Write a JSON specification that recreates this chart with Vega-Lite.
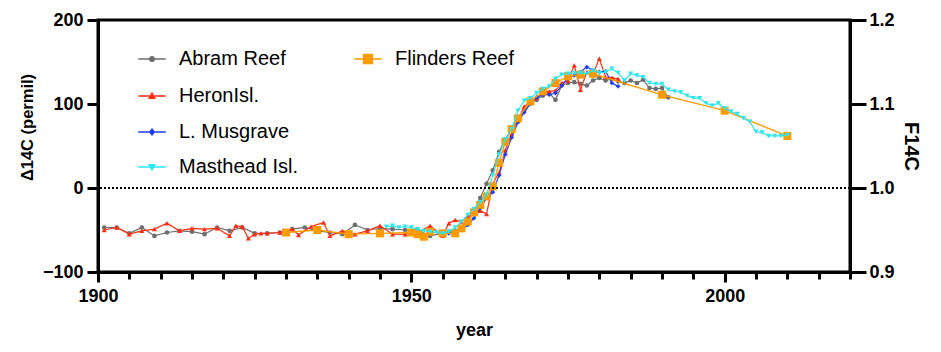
{
  "$schema": "https://vega.github.io/schema/vega-lite/v6.json",
  "autosize": {"type": "none"},
  "width": 752,
  "height": 252,
  "padding": {"left": 98, "top": 20, "right": 91, "bottom": 80},
  "background": "white",
  "config": {
    "view": {"stroke": "black", "strokeWidth": 3},
    "axis": {
      "grid": false,
      "domainColor": "black",
      "domainWidth": 3,
      "tickColor": "black",
      "tickWidth": 3,
      "labelFont": "Liberation Sans",
      "labelFontWeight": "bold",
      "labelFontSize": 18,
      "labelColor": "black",
      "titleFont": "Liberation Sans",
      "titleFontWeight": "bold",
      "titleFontSize": 18,
      "titleColor": "black"
    },
    "legend": {
      "labelFont": "Liberation Sans",
      "labelFontSize": 20,
      "labelColor": "black",
      "padding": 0,
      "symbolSize": 36,
      "symbolStrokeWidth": 1.3,
      "labelOffset": 17,
      "title": null
    }
  },
  "datasets": {
    "series": [
      {"s": "Abram Reef", "year": 1901, "d": -47}, {"s": "Abram Reef", "year": 1903, "d": -47}, {"s": "Abram Reef", "year": 1905, "d": -54}, {"s": "Abram Reef", "year": 1907, "d": -47}, {"s": "Abram Reef", "year": 1909, "d": -57}, {"s": "Abram Reef", "year": 1911, "d": -53}, {"s": "Abram Reef", "year": 1913, "d": -51}, {"s": "Abram Reef", "year": 1915, "d": -52}, {"s": "Abram Reef", "year": 1917, "d": -55}, {"s": "Abram Reef", "year": 1919, "d": -47}, {"s": "Abram Reef", "year": 1921, "d": -51}, {"s": "Abram Reef", "year": 1923, "d": -47}, {"s": "Abram Reef", "year": 1925, "d": -54}, {"s": "Abram Reef", "year": 1927, "d": -54}, {"s": "Abram Reef", "year": 1929, "d": -53}, {"s": "Abram Reef", "year": 1931, "d": -49}, {"s": "Abram Reef", "year": 1933, "d": -47}, {"s": "Abram Reef", "year": 1935, "d": -51}, {"s": "Abram Reef", "year": 1937, "d": -53}, {"s": "Abram Reef", "year": 1939, "d": -55}, {"s": "Abram Reef", "year": 1941, "d": -44}, {"s": "Abram Reef", "year": 1943, "d": -50}, {"s": "Abram Reef", "year": 1945, "d": -48}, {"s": "Abram Reef", "year": 1947, "d": -49}, {"s": "Abram Reef", "year": 1949, "d": -50}, {"s": "Abram Reef", "year": 1951, "d": -50}, {"s": "Abram Reef", "year": 1953, "d": -57}, {"s": "Abram Reef", "year": 1955, "d": -54}, {"s": "Abram Reef", "year": 1956, "d": -52}, {"s": "Abram Reef", "year": 1957, "d": -51}, {"s": "Abram Reef", "year": 1958, "d": -47}, {"s": "Abram Reef", "year": 1959, "d": -38}, {"s": "Abram Reef", "year": 1960, "d": -27}, {"s": "Abram Reef", "year": 1961, "d": -12}, {"s": "Abram Reef", "year": 1962, "d": 5}, {"s": "Abram Reef", "year": 1963, "d": 21}, {"s": "Abram Reef", "year": 1964, "d": 43}, {"s": "Abram Reef", "year": 1965, "d": 58}, {"s": "Abram Reef", "year": 1966, "d": 70}, {"s": "Abram Reef", "year": 1967, "d": 81}, {"s": "Abram Reef", "year": 1968, "d": 92}, {"s": "Abram Reef", "year": 1969, "d": 101}, {"s": "Abram Reef", "year": 1970, "d": 105}, {"s": "Abram Reef", "year": 1971, "d": 110}, {"s": "Abram Reef", "year": 1972, "d": 113}, {"s": "Abram Reef", "year": 1973, "d": 105}, {"s": "Abram Reef", "year": 1974, "d": 122}, {"s": "Abram Reef", "year": 1975, "d": 125}, {"s": "Abram Reef", "year": 1976, "d": 126}, {"s": "Abram Reef", "year": 1977, "d": 124}, {"s": "Abram Reef", "year": 1978, "d": 122}, {"s": "Abram Reef", "year": 1979, "d": 128}, {"s": "Abram Reef", "year": 1980, "d": 131}, {"s": "Abram Reef", "year": 1981, "d": 128}, {"s": "Abram Reef", "year": 1982, "d": 130}, {"s": "Abram Reef", "year": 1983, "d": 127}, {"s": "Abram Reef", "year": 1984, "d": 125}, {"s": "Abram Reef", "year": 1985, "d": 128}, {"s": "Abram Reef", "year": 1986, "d": 125}, {"s": "Abram Reef", "year": 1987, "d": 129}, {"s": "Abram Reef", "year": 1988, "d": 119}, {"s": "Abram Reef", "year": 1989, "d": 118}, {"s": "Abram Reef", "year": 1990, "d": 119}, {"s": "Abram Reef", "year": 1991, "d": 108},

      {"s": "HeronIsl.", "year": 1901, "d": -50}, {"s": "HeronIsl.", "year": 1903, "d": -47}, {"s": "HeronIsl.", "year": 1905, "d": -55}, {"s": "HeronIsl.", "year": 1907, "d": -51}, {"s": "HeronIsl.", "year": 1909, "d": -49}, {"s": "HeronIsl.", "year": 1911, "d": -42}, {"s": "HeronIsl.", "year": 1913, "d": -51}, {"s": "HeronIsl.", "year": 1915, "d": -48}, {"s": "HeronIsl.", "year": 1917, "d": -49}, {"s": "HeronIsl.", "year": 1919, "d": -48}, {"s": "HeronIsl.", "year": 1921, "d": -57}, {"s": "HeronIsl.", "year": 1922, "d": -45}, {"s": "HeronIsl.", "year": 1923, "d": -46}, {"s": "HeronIsl.", "year": 1924, "d": -60}, {"s": "HeronIsl.", "year": 1925, "d": -55}, {"s": "HeronIsl.", "year": 1926, "d": -54}, {"s": "HeronIsl.", "year": 1927, "d": -54}, {"s": "HeronIsl.", "year": 1929, "d": -53}, {"s": "HeronIsl.", "year": 1931, "d": -49}, {"s": "HeronIsl.", "year": 1932, "d": -56}, {"s": "HeronIsl.", "year": 1934, "d": -46}, {"s": "HeronIsl.", "year": 1936, "d": -41}, {"s": "HeronIsl.", "year": 1937, "d": -57}, {"s": "HeronIsl.", "year": 1939, "d": -51}, {"s": "HeronIsl.", "year": 1941, "d": -55}, {"s": "HeronIsl.", "year": 1943, "d": -51}, {"s": "HeronIsl.", "year": 1945, "d": -45}, {"s": "HeronIsl.", "year": 1947, "d": -55}, {"s": "HeronIsl.", "year": 1949, "d": -55}, {"s": "HeronIsl.", "year": 1951, "d": -53}, {"s": "HeronIsl.", "year": 1953, "d": -45}, {"s": "HeronIsl.", "year": 1955, "d": -57}, {"s": "HeronIsl.", "year": 1956, "d": -42}, {"s": "HeronIsl.", "year": 1957, "d": -38}, {"s": "HeronIsl.", "year": 1958, "d": -40}, {"s": "HeronIsl.", "year": 1959, "d": -34}, {"s": "HeronIsl.", "year": 1960, "d": -30}, {"s": "HeronIsl.", "year": 1961, "d": -27}, {"s": "HeronIsl.", "year": 1962, "d": -31}, {"s": "HeronIsl.", "year": 1963, "d": 5}, {"s": "HeronIsl.", "year": 1964, "d": 18}, {"s": "HeronIsl.", "year": 1965, "d": 45}, {"s": "HeronIsl.", "year": 1966, "d": 64}, {"s": "HeronIsl.", "year": 1967, "d": 80}, {"s": "HeronIsl.", "year": 1968, "d": 97}, {"s": "HeronIsl.", "year": 1969, "d": 103}, {"s": "HeronIsl.", "year": 1970, "d": 107}, {"s": "HeronIsl.", "year": 1971, "d": 113}, {"s": "HeronIsl.", "year": 1972, "d": 115}, {"s": "HeronIsl.", "year": 1973, "d": 116}, {"s": "HeronIsl.", "year": 1974, "d": 125}, {"s": "HeronIsl.", "year": 1975, "d": 128}, {"s": "HeronIsl.", "year": 1976, "d": 146}, {"s": "HeronIsl.", "year": 1977, "d": 117}, {"s": "HeronIsl.", "year": 1978, "d": 138}, {"s": "HeronIsl.", "year": 1979, "d": 136}, {"s": "HeronIsl.", "year": 1980, "d": 154}, {"s": "HeronIsl.", "year": 1981, "d": 132}, {"s": "HeronIsl.", "year": 1982, "d": 131}, {"s": "HeronIsl.", "year": 1983, "d": 130},

      {"s": "L. Musgrave", "year": 1955, "d": -55}, {"s": "L. Musgrave", "year": 1956, "d": -54}, {"s": "L. Musgrave", "year": 1957, "d": -53}, {"s": "L. Musgrave", "year": 1958, "d": -50}, {"s": "L. Musgrave", "year": 1959, "d": -44}, {"s": "L. Musgrave", "year": 1960, "d": -36}, {"s": "L. Musgrave", "year": 1961, "d": -24}, {"s": "L. Musgrave", "year": 1962, "d": -12}, {"s": "L. Musgrave", "year": 1963, "d": -5}, {"s": "L. Musgrave", "year": 1964, "d": 15}, {"s": "L. Musgrave", "year": 1965, "d": 40}, {"s": "L. Musgrave", "year": 1966, "d": 60}, {"s": "L. Musgrave", "year": 1967, "d": 78}, {"s": "L. Musgrave", "year": 1968, "d": 90}, {"s": "L. Musgrave", "year": 1969, "d": 100}, {"s": "L. Musgrave", "year": 1970, "d": 108}, {"s": "L. Musgrave", "year": 1971, "d": 111}, {"s": "L. Musgrave", "year": 1972, "d": 111}, {"s": "L. Musgrave", "year": 1973, "d": 113}, {"s": "L. Musgrave", "year": 1974, "d": 122}, {"s": "L. Musgrave", "year": 1975, "d": 131}, {"s": "L. Musgrave", "year": 1976, "d": 134}, {"s": "L. Musgrave", "year": 1977, "d": 138}, {"s": "L. Musgrave", "year": 1978, "d": 144}, {"s": "L. Musgrave", "year": 1979, "d": 140}, {"s": "L. Musgrave", "year": 1980, "d": 138}, {"s": "L. Musgrave", "year": 1981, "d": 139}, {"s": "L. Musgrave", "year": 1982, "d": 125}, {"s": "L. Musgrave", "year": 1983, "d": 121},

      {"s": "Masthead Isl.", "year": 1946, "d": -46}, {"s": "Masthead Isl.", "year": 1947, "d": -45}, {"s": "Masthead Isl.", "year": 1948, "d": -47}, {"s": "Masthead Isl.", "year": 1949, "d": -46}, {"s": "Masthead Isl.", "year": 1950, "d": -47}, {"s": "Masthead Isl.", "year": 1951, "d": -49}, {"s": "Masthead Isl.", "year": 1952, "d": -51}, {"s": "Masthead Isl.", "year": 1953, "d": -52}, {"s": "Masthead Isl.", "year": 1954, "d": -53}, {"s": "Masthead Isl.", "year": 1955, "d": -54}, {"s": "Masthead Isl.", "year": 1956, "d": -52}, {"s": "Masthead Isl.", "year": 1957, "d": -47}, {"s": "Masthead Isl.", "year": 1958, "d": -40}, {"s": "Masthead Isl.", "year": 1959, "d": -32}, {"s": "Masthead Isl.", "year": 1960, "d": -25}, {"s": "Masthead Isl.", "year": 1961, "d": -17}, {"s": "Masthead Isl.", "year": 1962, "d": -8}, {"s": "Masthead Isl.", "year": 1963, "d": 15}, {"s": "Masthead Isl.", "year": 1964, "d": 40}, {"s": "Masthead Isl.", "year": 1965, "d": 58}, {"s": "Masthead Isl.", "year": 1966, "d": 70}, {"s": "Masthead Isl.", "year": 1967, "d": 92}, {"s": "Masthead Isl.", "year": 1968, "d": 104}, {"s": "Masthead Isl.", "year": 1969, "d": 107}, {"s": "Masthead Isl.", "year": 1970, "d": 113}, {"s": "Masthead Isl.", "year": 1971, "d": 118}, {"s": "Masthead Isl.", "year": 1972, "d": 121}, {"s": "Masthead Isl.", "year": 1973, "d": 130}, {"s": "Masthead Isl.", "year": 1974, "d": 135}, {"s": "Masthead Isl.", "year": 1975, "d": 136}, {"s": "Masthead Isl.", "year": 1976, "d": 137}, {"s": "Masthead Isl.", "year": 1977, "d": 137}, {"s": "Masthead Isl.", "year": 1978, "d": 136}, {"s": "Masthead Isl.", "year": 1979, "d": 140}, {"s": "Masthead Isl.", "year": 1980, "d": 137}, {"s": "Masthead Isl.", "year": 1981, "d": 138}, {"s": "Masthead Isl.", "year": 1982, "d": 142}, {"s": "Masthead Isl.", "year": 1983, "d": 137}, {"s": "Masthead Isl.", "year": 1984, "d": 128}, {"s": "Masthead Isl.", "year": 1985, "d": 136}, {"s": "Masthead Isl.", "year": 1986, "d": 134}, {"s": "Masthead Isl.", "year": 1987, "d": 132}, {"s": "Masthead Isl.", "year": 1988, "d": 125}, {"s": "Masthead Isl.", "year": 1989, "d": 124}, {"s": "Masthead Isl.", "year": 1990, "d": 124}, {"s": "Masthead Isl.", "year": 1991, "d": 117}, {"s": "Masthead Isl.", "year": 1992, "d": 115}, {"s": "Masthead Isl.", "year": 1993, "d": 114}, {"s": "Masthead Isl.", "year": 1994, "d": 110}, {"s": "Masthead Isl.", "year": 1995, "d": 107}, {"s": "Masthead Isl.", "year": 1996, "d": 107}, {"s": "Masthead Isl.", "year": 1997, "d": 101}, {"s": "Masthead Isl.", "year": 1998, "d": 98}, {"s": "Masthead Isl.", "year": 1999, "d": 101}, {"s": "Masthead Isl.", "year": 2000, "d": 95}, {"s": "Masthead Isl.", "year": 2001, "d": 91}, {"s": "Masthead Isl.", "year": 2002, "d": 88}, {"s": "Masthead Isl.", "year": 2003, "d": 83}, {"s": "Masthead Isl.", "year": 2004, "d": 79}, {"s": "Masthead Isl.", "year": 2005, "d": 67}, {"s": "Masthead Isl.", "year": 2006, "d": 66}, {"s": "Masthead Isl.", "year": 2007, "d": 62}, {"s": "Masthead Isl.", "year": 2008, "d": 62}, {"s": "Masthead Isl.", "year": 2009, "d": 62}, {"s": "Masthead Isl.", "year": 2010, "d": 63},

      {"s": "Flinders Reef", "year": 1930, "d": -53}, {"s": "Flinders Reef", "year": 1935, "d": -50}, {"s": "Flinders Reef", "year": 1940, "d": -55}, {"s": "Flinders Reef", "year": 1945, "d": -54}, {"s": "Flinders Reef", "year": 1950, "d": -53}, {"s": "Flinders Reef", "year": 1951, "d": -55}, {"s": "Flinders Reef", "year": 1952, "d": -58}, {"s": "Flinders Reef", "year": 1953, "d": -52}, {"s": "Flinders Reef", "year": 1955, "d": -54}, {"s": "Flinders Reef", "year": 1957, "d": -54}, {"s": "Flinders Reef", "year": 1958, "d": -48}, {"s": "Flinders Reef", "year": 1959, "d": -40}, {"s": "Flinders Reef", "year": 1960, "d": -29}, {"s": "Flinders Reef", "year": 1961, "d": -20}, {"s": "Flinders Reef", "year": 1962, "d": -10}, {"s": "Flinders Reef", "year": 1963, "d": 2}, {"s": "Flinders Reef", "year": 1964, "d": 30}, {"s": "Flinders Reef", "year": 1965, "d": 55}, {"s": "Flinders Reef", "year": 1966, "d": 70}, {"s": "Flinders Reef", "year": 1967, "d": 83}, {"s": "Flinders Reef", "year": 1969, "d": 103}, {"s": "Flinders Reef", "year": 1971, "d": 115}, {"s": "Flinders Reef", "year": 1973, "d": 125}, {"s": "Flinders Reef", "year": 1975, "d": 133}, {"s": "Flinders Reef", "year": 1977, "d": 135}, {"s": "Flinders Reef", "year": 1979, "d": 136}, {"s": "Flinders Reef", "year": 1990, "d": 111}, {"s": "Flinders Reef", "year": 2000, "d": 92}, {"s": "Flinders Reef", "year": 2010, "d": 62}
    ],
    "ref": [{"f": 1.0}]
  },
  "layer": [
    {
      "data": {"name": "series"},
      "encoding": {
        "x": {
          "field": "year", "type": "quantitative",
          "scale": {"domain": [1900, 2020], "nice": false, "zero": false},
          "axis": {
            "title": "year",
            "values": [1900, 1905, 1910, 1915, 1920, 1925, 1930, 1935, 1940, 1945, 1950, 1955, 1960, 1965, 1970, 1975, 1980, 1985, 1990, 1995, 2000, 2005, 2010, 2015, 2020],
            "labelExpr": "datum.value % 50 === 0 ? format(datum.value, 'd') : ''",
            "tickSize": {"condition": {"test": "datum.value % 50 === 0", "value": 10}, "value": 7},
            "labelPadding": 5,
            "labelFlush": false,
            "labelOverlap": false,
            "titleY": 58,
            "titleBaseline": "middle"
          }
        },
        "y": {
          "field": "d", "type": "quantitative",
          "scale": {"domain": [-100, 200], "nice": false, "zero": false},
          "axis": {
            "orient": "left",
            "title": "Δ14C (permil)",
            "titleFontSize": 16.5,
            "values": [-100, 0, 100, 200],
            "tickSize": 11,
            "labelPadding": 4,
            "titleX": -71,
            "titleY": 107,
            "titleBaseline": "middle"
          }
        }
      },
      "layer": [
        {
          "transform": [{"filter": "datum.s === 'Abram Reef'"}],
          "mark": {"type": "line", "strokeWidth": 1.2, "point": {"shape": "circle", "filled": true, "size": 22, "opacity": 1}},
          "encoding": {
            "color": {"field": "s", "type": "nominal", "scale": {"range": ["#6f6f6f"]},
              "legend": {"orient": "none", "legendX": 44, "legendY": 29,
                "symbolType": "M-4.6,0H4.6M-0.8,0A0.8,0.8,0,1,0,0.8,0A0.8,0.8,0,1,0,-0.8,0Z",
                "symbolFillColor": "#6f6f6f", "symbolStrokeColor": "#6f6f6f",
                "encode": {"symbols": {"update": {"fill": {"value": "#6f6f6f"}, "stroke": {"value": "#6f6f6f"}, "strokeWidth": {"value": 1.3}, "opacity": {"value": 1}, "shape": {"value": "M-4.6,0H4.6M-0.8,0A0.8,0.8,0,1,0,0.8,0A0.8,0.8,0,1,0,-0.8,0Z"}}}}}}
          }
        },
        {
          "transform": [{"filter": "datum.s === 'HeronIsl.'"}],
          "mark": {"type": "line", "strokeWidth": 1.2, "point": {"shape": "triangle-up", "filled": true, "size": 26, "opacity": 1}},
          "encoding": {
            "color": {"field": "s", "type": "nominal", "scale": {"range": ["#ff2e12"]},
              "legend": {"orient": "none", "legendX": 44, "legendY": 66,
                "symbolType": "M-4.6,0H4.6M0,-1L1,0.8H-1Z",
                "symbolFillColor": "#ff2e12", "symbolStrokeColor": "#ff2e12",
                "encode": {"symbols": {"update": {"fill": {"value": "#ff2e12"}, "stroke": {"value": "#ff2e12"}, "strokeWidth": {"value": 1.3}, "opacity": {"value": 1}, "shape": {"value": "M-4.6,0H4.6M0,-1L1,0.8H-1Z"}}}}}}
          }
        },
        {
          "transform": [{"filter": "datum.s === 'L. Musgrave'"}],
          "mark": {"type": "line", "strokeWidth": 1.2, "point": {"shape": "diamond", "filled": true, "size": 22, "opacity": 1}},
          "encoding": {
            "color": {"field": "s", "type": "nominal", "scale": {"range": ["#1f3cf2"]},
              "legend": {"orient": "none", "legendX": 44, "legendY": 102,
                "symbolType": "M-4.6,0H4.6M0,-1L0.8,0L0,1L-0.8,0Z",
                "symbolFillColor": "#1f3cf2", "symbolStrokeColor": "#1f3cf2",
                "encode": {"symbols": {"update": {"fill": {"value": "#1f3cf2"}, "stroke": {"value": "#1f3cf2"}, "strokeWidth": {"value": 1.3}, "opacity": {"value": 1}, "shape": {"value": "M-4.6,0H4.6M0,-1L0.8,0L0,1L-0.8,0Z"}}}}}}
          }
        },
        {
          "transform": [{"filter": "datum.s === 'Flinders Reef'"}],
          "mark": {"type": "line", "strokeWidth": 1.3, "point": {"shape": "square", "filled": true, "size": 64, "opacity": 1}},
          "encoding": {
            "color": {"field": "s", "type": "nominal", "scale": {"range": ["#ff9b00"]},
              "legend": {"orient": "none", "legendX": 260, "legendY": 29,
                "symbolType": "M-4.6,0H4.6M-1.5,-1.5H1.5V1.5H-1.5Z",
                "symbolFillColor": "#ff9b00", "symbolStrokeColor": "#ff9b00",
                "encode": {"symbols": {"update": {"fill": {"value": "#ff9b00"}, "stroke": {"value": "#ff9b00"}, "strokeWidth": {"value": 1.3}, "opacity": {"value": 1}, "shape": {"value": "M-4.6,0H4.6M-1.5,-1.5H1.5V1.5H-1.5Z"}}}}}}
          }
        },
        {
          "transform": [{"filter": "datum.s === 'Masthead Isl.'"}],
          "mark": {"type": "line", "strokeWidth": 1.2, "point": {"shape": "triangle-down", "filled": true, "size": 26, "opacity": 1}},
          "encoding": {
            "color": {"field": "s", "type": "nominal", "scale": {"range": ["#2ee5f2"]},
              "legend": {"orient": "none", "legendX": 44, "legendY": 137,
                "symbolType": "M-4.6,0H4.6M0,1L1,-0.8H-1Z",
                "symbolFillColor": "#2ee5f2", "symbolStrokeColor": "#2ee5f2",
                "encode": {"symbols": {"update": {"fill": {"value": "#2ee5f2"}, "stroke": {"value": "#2ee5f2"}, "strokeWidth": {"value": 1.3}, "opacity": {"value": 1}, "shape": {"value": "M-4.6,0H4.6M0,1L1,-0.8H-1Z"}}}}}}
          }
        }
      ],
      "resolve": {"scale": {"color": "independent"}, "legend": {"color": "independent"}}
    },
    {
      "data": {"name": "ref"},
      "mark": {"type": "rule", "color": "black", "strokeWidth": 2, "strokeDash": [2, 2]},
      "encoding": {
        "y": {
          "field": "f", "type": "quantitative",
          "scale": {"domain": [0.9, 1.2], "nice": false, "zero": false},
          "axis": {
            "orient": "right",
            "title": "F14C",
            "titleFontSize": 20,
            "values": [0.9, 1.0, 1.1, 1.2],
            "format": ".1f",
            "tickSize": 16,
            "labelPadding": 3,
            "titleAngle": 90,
            "titleX": 60,
            "titleBaseline": "middle"
          }
        }
      }
    }
  ],
  "resolve": {"scale": {"y": "independent", "color": "independent"}}
}
